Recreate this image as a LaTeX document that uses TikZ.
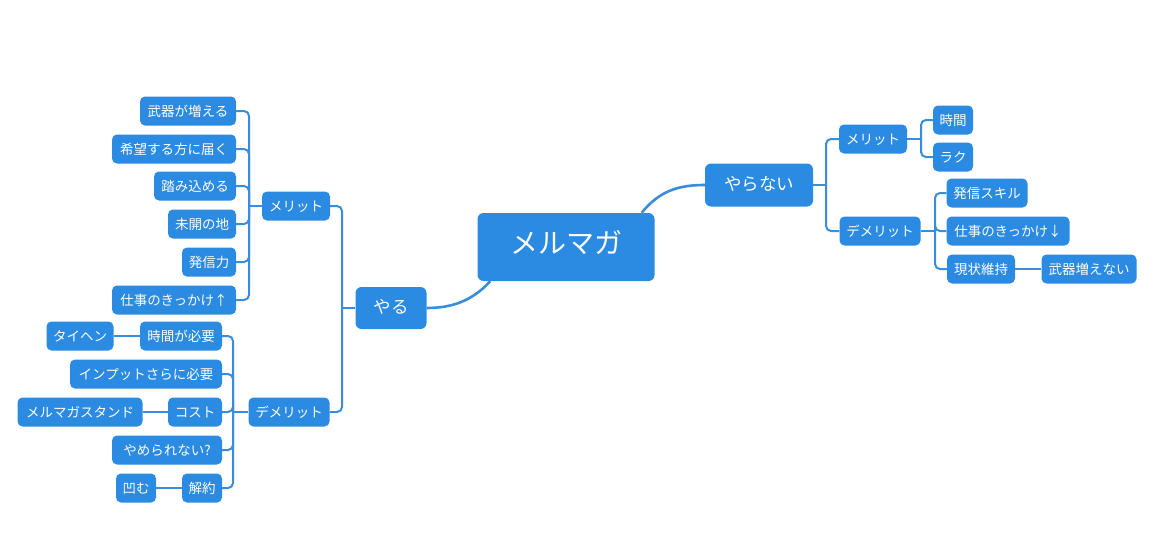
\documentclass[tikz,border=0pt]{standalone}
\usepackage{fontspec}
\setmainfont{Noto Sans CJK JP}
\usetikzlibrary{calc}
\definecolor{nodeblue}{HTML}{2B8AE2}
\definecolor{lineblue}{HTML}{3A8DDA}
\tikzset{
  box/.style={fill=nodeblue, text=white, rounded corners=5pt, inner sep=0pt,
    minimum height=29pt, text height=1.05em, text depth=0em,
    font=\fontsize{13.5}{16}\selectfont},
  midbox/.style={box, rounded corners=6pt, minimum height=43pt, text height=1.15em,
    font=\fontsize{17.5}{20}\selectfont},
  rootbox/.style={box, rounded corners=6pt, minimum height=68pt, text height=1.25em,
    font=\fontsize{28}{32}\selectfont},
  conn/.style={draw=lineblue, line width=2pt, rounded corners=5pt},
  mainconn/.style={draw=lineblue, line width=2.6pt},
}
\begin{document}
\begin{tikzpicture}[x=1pt,y=-1pt]
\useasboundingbox[fill=white] (0,0) rectangle (1162,538);

% root and main branches
\node[rootbox, minimum width=177pt] (root) at (566,247) {メルマガ};
\node[midbox, minimum width=71pt, minimum height=42pt] (yaru) at (391,308) {やる};
\node[midbox, minimum width=108pt] (yaranai) at (759,185) {やらない};

% left: やる
\node[box, minimum width=68pt] (lm) at (296,206) {メリット};
\node[box, minimum width=81pt] (ld) at (289,412) {デメリット};

\node[box, minimum width=96pt] (l1) at (188,111) {武器が増える};
\node[box, minimum width=124pt] (l2) at (174,149) {希望する方に届く};
\node[box, minimum width=82pt] (l3) at (195,186) {踏み込める};
\node[box, minimum width=68pt] (l4) at (202,224) {未開の地};
\node[box, minimum width=54pt] (l5) at (209,262) {発信力};
\node[box, minimum width=124pt] (l6) at (174,300) {仕事のきっかけ↑};

\node[box, minimum width=82pt] (d1) at (181,336) {時間が必要};
\node[box, minimum width=67pt] (d1a) at (80,336) {タイヘン};
\node[box, minimum width=152pt] (d2) at (146,374) {インプットさらに必要};
\node[box, minimum width=54pt] (d3) at (195,412) {コスト};
\node[box, minimum width=125pt] (d3a) at (80,412) {メルマガスタンド};
\node[box, minimum width=110pt] (d4) at (167,450) {やめられない?};
\node[box, minimum width=40pt] (d5) at (202,488) {解約};
\node[box, minimum width=40pt] (d5a) at (136,488) {凹む};

% right: やらない
\node[box, minimum width=68pt] (rm) at (873,139) {メリット};
\node[box, minimum width=81pt] (rd) at (880,231) {デメリット};
\node[box, minimum width=40pt] (r1) at (953,120) {時間};
\node[box, minimum width=40pt] (r2) at (953,157) {ラク};
\node[box, minimum width=81pt] (r3) at (987,193) {発信スキル};
\node[box, minimum width=123pt] (r4) at (1008,231) {仕事のきっかけ↓};
\node[box, minimum width=68pt] (r5) at (981,269) {現状維持};
\node[box, minimum width=95pt] (r5a) at (1089,269) {武器増えない};

% bus coordinates
\coordinate (byaru) at (342,308);
\coordinate (blm) at (249,206);
\coordinate (bld) at (233,412);
\coordinate (byaranai) at (826,185);
\coordinate (brm) at (921,139);
\coordinate (brd) at (935,231);

% main curves
\draw[mainconn] ($(root.south west)+(13,0)$) .. controls (472,301) and (452,308) .. (yaru.east);
\draw[mainconn] ($(root.north east)+(-13,0)$) .. controls (660,190) and (680,185) .. (yaranai.west);

% やる bus
\draw[conn] (lm.east) -| (byaru);
\draw[conn] (ld.east) -| (byaru);
\draw[conn] (yaru.west) -- (byaru);

% left メリット children
\foreach \c in {l1,l2,l3,l4,l5,l6} \draw[conn] (\c.east) -| (blm);
\draw[conn] (lm.west) -- (blm);

% left デメリット children
\foreach \c in {d1,d2,d3,d4,d5} \draw[conn] (\c.east) -| (bld);
\draw[conn] (ld.west) -- (bld);
\draw[conn] (d1a.east) -- (d1.west);
\draw[conn] (d3a.east) -- (d3.west);
\draw[conn] (d5a.east) -- (d5.west);

% right
\draw[conn] (rm.west) -| (byaranai);
\draw[conn] (rd.west) -| (byaranai);
\draw[conn] (yaranai.east) -- (byaranai);
\foreach \c in {r1,r2} \draw[conn] (\c.west) -| (brm);
\draw[conn] (rm.east) -- (brm);
\foreach \c in {r3,r4,r5} \draw[conn] (\c.west) -| (brd);
\draw[conn] (rd.east) -- (brd);
\draw[conn] (r5.east) -- (r5a.west);
\end{tikzpicture}
\end{document}
